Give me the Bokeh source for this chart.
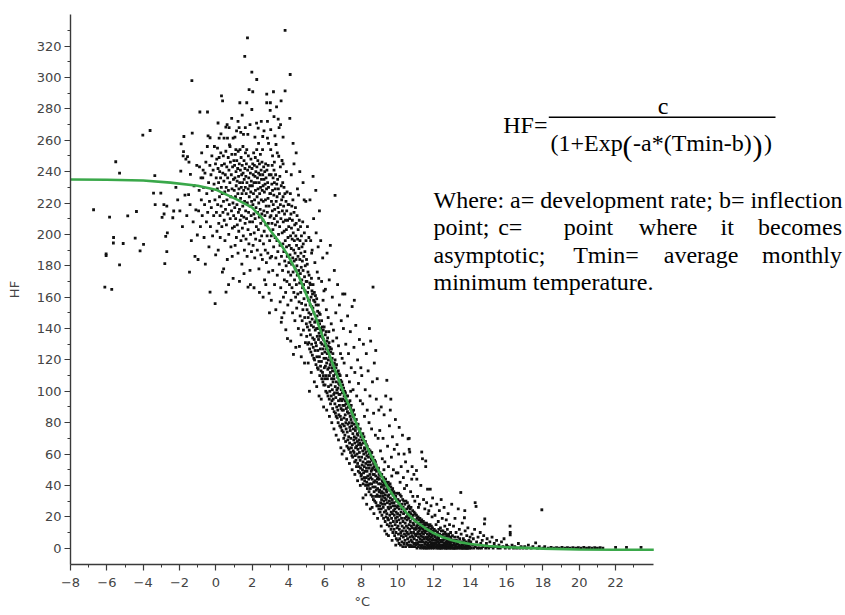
from bokeh.plotting import figure
from bokeh.models import FixedTicker, Title
from bokeh.embed import file_html
from bokeh.resources import INLINE
from bokeh.core.properties import value

# ---------------- data ----------------
x_major = [-8, -6, -4, -2, 0, 2, 4, 6, 8, 10, 12, 14, 16, 18, 20, 22]
x_minor = [-7, -5, -3, -1, 1, 3, 5, 7, 9, 11, 13, 15, 17, 19, 21, 23]
y_major = [0, 20, 40, 60, 80, 100, 120, 140, 160, 180, 200, 220, 240, 260, 280, 300, 320]
y_minor = [10, 30, 50, 70, 90, 110, 130, 150, 170, 190, 210, 230, 250, 270, 290, 310, 330]

curve_x = [-8, -6, -4, -2.5, -1, 0, 1.2, 2, 2.5, 3, 3.5, 4, 4.5, 5, 5.5, 6, 6.5, 7, 7.5, 8, 8.5, 9,
           9.5, 10, 10.5, 11, 11.5, 12, 12.5, 13, 13.5, 14, 15, 16, 17, 18, 20, 22, 24.1]
curve_y = [235, 234.8, 234.3, 233, 231, 228.5, 222, 217, 211, 202.5, 195, 186, 175, 161, 147, 131, 115.5,
           100, 86, 72.5, 60, 48.5, 38, 29.5, 22.5, 17, 13, 9.5, 7, 5, 3.7, 2.7, 1.4, 0.6, 0.2, -0.3, -0.8, -1, -1]

pts_far_left = [(-6.73,215.7),(-6.11,166.4),(-6.04,187.6),(-6.04,186.4),(-5.85,211),(-5.73,165),(-5.64,194.5),
    (-5.63,198),(-5.51,246.3),(-5.3,239),(-5.3,180.6),(-5.1,194.2),(-4.85,211.8),(-4.44,197.6),(-4.37,214.6),
    (-4.17,189.5),(-4.02,263.2),(-3.98,193.6),(-3.62,266.2),(-3.43,226.3),(-3.36,237.5),(-3.34,219),(-3.03,226.3),
    (-2.96,210.8),(-2.86,219),(-2.85,213),(-2.81,181.4),(-2.76,198.7),(-2.7,218),(-2.7,189),(-2.67,201),
    (-2.37,210.6),(-2.32,214.9),(-2.2,230),(-2.1,222),(-1.98,215),(-1.93,240.3),(-1.91,257.7),(-1.84,205),
    (-1.8,250),(-1.78,252.8),(-1.76,262.4),(-1.7,225),(-1.65,248),(-1.6,212),(-1.56,249.6),(-1.5,225.4),
    (-1.48,246),(-1.45,176),(-1.42,219),(-1.4,238.3),(-1.35,196),(-1.32,298),(-1.3,264.5),(-1.25,208),
    (-1.2,231),(-1.15,186),(-1.1,215.6),(-1.05,244),(-1.02,199.6)]

pts_m1_0 = [(-0.98,184),(-0.95,215),(-0.92,228),(-0.9,243),(-0.88,278),(-0.85,205),(-0.82,236),(-0.8,222),
    (-0.78,252),(-0.75,212),(-0.72,236),(-0.7,241),(-0.68,230),(-0.65,198),(-0.62,219),(-0.6,239),(-0.58,181),
    (-0.55,246),(-0.52,208),(-0.5,226),(-0.47,256),(-0.46,278),(-0.45,214),(-0.43,262.8),(-0.4,233),(-0.38,192),
    (-0.35,221),(-0.33,244),(-0.32,261.6),(-0.32,163.2),(-0.3,205),(-0.27,238),(-0.25,217),(-0.22,250),
    (-0.2,228),(-0.18,199),(-0.15,241),(-0.12,212),(-0.1,232),(-0.08,256),(-0.05,222),(-0.04,155.9),
    (-0.02,245),(-0.01,187)]

pts_0_1 = [(0.18,261.3),(0.31,288.3),(0.37,285.1),(0.45,261.3),(0.55,268.3),(0.56,163.2),(0.64,261.3),
    (0.73,268),(0.78,256),(0.95,261.3),(0.02,236),(0.03,214),(0.05,248),(0.06,202),(0.08,229),(0.09,255),
    (0.1,219),(0.12,242),(0.13,190),(0.15,233),(0.16,207),(0.18,249),(0.2,224),(0.21,240),(0.23,212),
    (0.24,198),(0.26,236),(0.27,252),(0.29,218),(0.3,230),(0.32,244),(0.33,205),(0.35,226),(0.36,176),
    (0.38,239),(0.39,214),(0.41,250),(0.42,221),(0.44,234),(0.46,209),(0.47,245),(0.49,227),(0.5,196),
    (0.52,238),(0.53,216),(0.55,253),(0.57,230),(0.58,206),(0.6,243),(0.61,222),(0.63,184),(0.65,236),
    (0.66,213),(0.68,249),(0.69,228),(0.71,200),(0.72,241),(0.74,219),(0.75,257),(0.77,233),(0.79,210),
    (0.8,246),(0.82,224),(0.83,192),(0.85,238),(0.86,215),(0.88,251),(0.89,229),(0.91,204),(0.92,243),
    (0.94,220),(0.95,172),(0.97,235),(0.98,212),(0.99,247),(0.28,264),(0.62,270),(0.87,274),(0.12,271),
    (0.43,178),(0.7,168),(0.9,186)]

pts_1_2 = [(1.14,266),(1.28,268),(1.32,283.9),(1.33,254),(1.37,265),(1.52,263.7),(1.59,313.4),(1.7,283.9),
    (1.7,254),(1.74,325.3),(1.76,263.7),(1.77,166.4),(1.83,292.3),(1.98,279.6),(1.98,303.4),(1.1,254),
    (1.01,228),(1.02,205),(1.03,244),(1.04,217),(1.05,236),(1.06,193),(1.07,251),(1.08,224),(1.09,210),
    (1.11,240),(1.12,231),(1.13,198),(1.15,247),(1.16,219),(1.17,234),(1.18,206),(1.2,242),(1.21,226),
    (1.22,188),(1.23,253),(1.24,214),(1.25,237),(1.26,202),(1.27,229),(1.29,245),(1.3,216),(1.31,233),
    (1.34,209),(1.35,241),(1.36,223),(1.38,196),(1.39,249),(1.4,230),(1.41,212),(1.42,238),(1.43,181),
    (1.44,226),(1.45,244),(1.46,204),(1.47,233),(1.48,218),(1.49,256),(1.5,239),(1.51,199),(1.53,228),
    (1.54,211),(1.55,247),(1.56,235),(1.57,190),(1.58,221),(1.6,242),(1.61,207),(1.62,230),(1.63,252),
    (1.64,215),(1.65,237),(1.66,197),(1.67,226),(1.68,245),(1.69,210),(1.71,233),(1.72,186),(1.73,220),
    (1.75,241),(1.77,203),(1.78,229),(1.79,250),(1.8,214),(1.81,236),(1.82,194),(1.84,224),(1.85,243),
    (1.86,208),(1.87,231),(1.88,177),(1.89,218),(1.9,239),(1.91,200),(1.92,227),(1.93,248),(1.94,212),
    (1.95,234),(1.96,189),(1.97,221),(1.99,242),(1.05,262),(1.22,272),(1.45,276),(1.62,268),(1.88,270),
    (1.3,170),(1.55,175),(1.9,168)]

pts_2_3 = [(2.03,290.9),(2.24,270.9),(2.25,298.7),(2.25,254),(2.33,267.7),(2.57,254),(2.58,262.4),
    (2.8,289.4),(2.8,283.9),(2.84,261.3),(2.84,272),(2.93,162.5),(2.95,150),(2.99,279),(3.0,283.9),
    (2.01,231),(2.02,208),(2.03,245),(2.04,219),(2.05,193),(2.06,238),(2.07,226),(2.08,252),(2.09,213),
    (2.1,233),(2.11,201),(2.12,244),(2.13,222),(2.14,185),(2.15,237),(2.16,210),(2.17,249),(2.18,228),
    (2.19,197),(2.2,240),(2.21,217),(2.22,233),(2.23,205),(2.26,243),(2.27,224),(2.28,190),(2.29,236),
    (2.3,214),(2.31,247),(2.32,229),(2.34,203),(2.35,239),(2.36,220),(2.37,178),(2.38,233),(2.39,211),
    (2.4,245),(2.41,226),(2.42,196),(2.43,238),(2.44,216),(2.45,251),(2.46,230),(2.47,207),(2.48,187),
    (2.49,241),(2.5,222),(2.51,235),(2.52,199),(2.53,213),(2.54,246),(2.55,228),(2.56,184),(2.58,238),
    (2.59,209),(2.6,231),(2.61,221),(2.62,194),(2.63,243),(2.64,215),(2.65,235),(2.66,202),(2.67,227),
    (2.68,171),(2.69,240),(2.7,212),(2.71,232),(2.72,190),(2.73,222),(2.74,245),(2.75,206),(2.76,236),
    (2.77,218),(2.78,182),(2.79,229),(2.81,241),(2.82,199),(2.83,214),(2.85,233),(2.86,188),(2.87,223),
    (2.88,244),(2.89,207),(2.9,230),(2.91,176),(2.92,218),(2.94,238),(2.96,196),(2.97,226),(2.98,211),
    (2.99,185),(2.15,262),(2.35,258),(2.5,272),(2.65,266),(2.9,258),(2.1,166),(2.4,163),(2.6,160),(2.75,168)]

pts_3_4 = [(3.02,266.8),(3.02,254),(3.17,290.9),(3.25,262.8),(3.31,257.3),(3.34,281.3),(3.43,273.4),
    (3.46,249.8),(3.48,268),(3.54,157),(3.56,270),(3.59,285.1),(3.63,146.9),(3.64,247.1),(3.81,330),
    (3.81,291.5),(3.85,139.2),(3.94,133.6),(3.01,226),(3.03,212),(3.04,238),(3.05,199),(3.06,221),
    (3.07,186),(3.08,232),(3.09,207),(3.1,244),(3.11,215),(3.12,228),(3.13,177),(3.14,203),(3.15,236),
    (3.16,219),(3.18,192),(3.19,225),(3.2,241),(3.21,210),(3.22,233),(3.23,168),(3.24,216),(3.26,198),
    (3.27,229),(3.28,206),(3.29,238),(3.3,185),(3.32,221),(3.33,212),(3.35,232),(3.36,196),(3.37,224),
    (3.38,174),(3.39,208),(3.4,235),(3.41,189),(3.42,217),(3.44,229),(3.45,200),(3.47,214),(3.49,181),
    (3.5,226),(3.51,205),(3.52,237),(3.53,193),(3.55,219),(3.57,166),(3.58,210),(3.6,231),(3.61,186),
    (3.62,222),(3.65,201),(3.66,215),(3.67,177),(3.68,233),(3.69,194),(3.7,224),(3.71,208),(3.72,160),
    (3.73,218),(3.74,189),(3.75,230),(3.76,202),(3.77,171),(3.78,213),(3.79,183),(3.8,226),(3.82,196),
    (3.83,209),(3.84,163),(3.86,221),(3.87,180),(3.88,203),(3.89,192),(3.9,215),(3.91,170),(3.92,227),
    (3.93,186),(3.95,209),(3.96,155),(3.97,198),(3.98,219),(3.99,176),(3.12,250),(3.22,246),(3.38,252),
    (3.55,243),(3.7,245),(3.88,240),(3.05,158),(3.3,152),(3.6,144),(3.75,150),(3.2,275),(3.7,262)]

pts_4_5 = [(4.07,274),(4.09,301.9),(4.27,123.5),(4.6,128.6),(4.01,205),(4.02,182),(4.03,219),(4.04,193),
    (4.05,168),(4.06,210),(4.08,187),(4.1,226),(4.11,199),(4.12,174),(4.13,213),(4.14,158),(4.15,191),
    (4.16,204),(4.17,181),(4.18,218),(4.19,166),(4.2,197),(4.21,209),(4.22,150),(4.23,185),(4.24,222),
    (4.25,176),(4.26,201),(4.28,190),(4.29,163),(4.3,214),(4.31,183),(4.32,196),(4.33,171),(4.34,206),
    (4.35,145),(4.36,188),(4.37,178),(4.38,217),(4.39,160),(4.4,199),(4.41,184),(4.42,207),(4.43,168),
    (4.44,193),(4.45,153),(4.46,180),(4.47,212),(4.48,174),(4.5,197),(4.51,162),(4.52,186),(4.53,203),
    (4.54,140),(4.56,177),(4.57,191),(4.58,157),(4.59,209),(4.61,169),(4.62,184),(4.63,196),(4.64,148),
    (4.65,175),(4.66,205),(4.67,163),(4.68,188),(4.69,136),(4.7,179),(4.71,199),(4.72,156),(4.73,171),
    (4.74,192),(4.75,145),(4.76,183),(4.77,166),(4.78,208),(4.79,152),(4.8,177),(4.81,194),(4.82,139),
    (4.83,168),(4.84,186),(4.85,159),(4.87,201),(4.88,173),(4.89,147),(4.9,189),(4.91,164),(4.92,180),
    (4.93,131),(4.94,155),(4.96,196),(4.97,170),(4.98,143),(4.99,184),(4.49,229),(4.55,225),(4.86,222),
    (4.95,221),(4.15,238),(4.3,245),(4.62,240),(4.8,233),(4.25,258),(4.42,252),(4.12,132),(4.4,128),
    (4.7,122),(4.88,118)]

pts_5_6 = [(5.00,135),(5.01,170),(5.02,152),(5.03,181),(5.04,141),(5.05,163),(5.06,130),(5.07,176),(5.08,147),
    (5.09,158),(5.10,166),(5.11,131),(5.12,150),(5.13,174),(5.14,139),(5.15,158),(5.16,127),(5.17,169),
    (5.18,144),(5.19,155),(5.20,136),(5.21,168),(5.22,149),(5.23,125),(5.24,160),(5.25,142),(5.26,172),
    (5.27,130),(5.28,154),(5.29,164),(5.30,146),(5.31,123),(5.32,162),(5.33,134),(5.34,153),(5.35,168),
    (5.36,128),(5.37,141),(5.38,158),(5.39,121),(5.40,150),(5.41,133),(5.42,163),(5.43,120),(5.44,144),
    (5.45,157),(5.46,126),(5.47,139),(5.48,161),(5.49,131),(5.50,145),(5.51,117),(5.52,155),(5.53,129),
    (5.54,140),(5.55,159),(5.56,122),(5.57,148),(5.58,135),(5.59,115),(5.60,151),(5.61,126),(5.62,140),
    (5.63,114),(5.64,155),(5.65,133),(5.66,145),(5.67,119),(5.68,137),(5.69,150),(5.70,122),(5.71,143),
    (5.72,110),(5.73,135),(5.74,149),(5.75,127),(5.76,116),(5.77,140),(5.78,131),(5.79,113),(5.80,138),
    (5.81,119),(5.82,145),(5.83,108),(5.84,130),(5.85,124),(5.86,141),(5.87,112),(5.88,134),(5.89,106),
    (5.90,127),(5.91,139),(5.92,110),(5.93,133),(5.94,104),(5.95,121),(5.96,141),(5.97,115),(5.98,129),
    (5.99,108),
    (5.04,205),(5.12,198),(5.18,222),(5.22,196),(5.27,188),(5.35,237),(5.38,210),(5.45,182),(5.52,201),
    (5.58,176),(5.63,192),(5.7,215),(5.77,196),(5.82,170),(5.88,185),(5.95,164),(5.5,228),(5.3,190),
    (5.66,172),(5.9,158),
    (5.08,118),(5.25,112),(5.42,106),(5.55,103),(5.68,97),(5.8,95),(5.93,90),(5.15,100)]

pts_6_7 = [(6.00,125),(6.01,104),(6.02,136),(6.03,116),(6.04,130),(6.05,100),(6.06,121),(6.07,138),(6.08,110),
    (6.09,127),(6.10,118),(6.11,132),(6.12,99),(6.13,124),(6.14,108),(6.15,134),(6.16,114),(6.17,97),
    (6.18,129),(6.19,120),(6.20,103),(6.21,126),(6.22,115),(6.23,131),(6.24,95),(6.25,110),(6.26,122),
    (6.27,100),(6.28,128),(6.29,117),(6.30,112),(6.31,92),(6.32,125),(6.33,104),(6.34,119),(6.35,97),
    (6.36,127),(6.37,108),(6.38,115),(6.39,94),(6.40,121),(6.41,101),(6.42,113),(6.43,89),(6.44,124),
    (6.45,106),(6.46,95),(6.47,117),(6.48,110),(6.49,98),(6.50,108),(6.51,87),(6.52,118),(6.53,99),
    (6.54,113),(6.55,92),(6.56,120),(6.57,103),(6.58,86),(6.59,111),(6.60,96),(6.61,115),(6.62,84),
    (6.63,106),(6.64,117),(6.65,90),(6.66,101),(6.67,112),(6.68,83),(6.69,99),(6.70,109),(6.71,88),
    (6.72,102),(6.73,80),(6.74,113),(6.75,94),(6.76,105),(6.77,85),(6.78,98),(6.79,111),(6.80,91),
    (6.81,104),(6.82,78),(6.83,98),(6.84,110),(6.85,84),(6.86,95),(6.87,107),(6.88,77),(6.89,89),
    (6.90,101),(6.91,82),(6.92,94),(6.93,106),(6.94,75),(6.95,88),(6.96,99),(6.97,79),(6.98,104),(6.99,91),
    (6.03,165),(6.08,152),(6.12,188),(6.18,147),(6.24,171),(6.3,193),(6.35,143),(6.41,160),(6.47,139),
    (6.52,177),(6.56,224.8),(6.6,150),(6.65,134),(6.7,168),(6.75,129),(6.8,155),(6.86,124),(6.9,145),
    (6.95,121),(6.98,162),(6.22,138),(6.44,132),
    (6.1,88),(6.25,84),(6.38,80),(6.5,76),(6.62,72),(6.75,69),(6.88,64),(6.95,60)]

pts_7_8 = [(7.00,95),(7.01,74),(7.02,88),(7.03,102),(7.04,70),(7.05,83),(7.06,97),(7.07,78),(7.08,91),
    (7.09,100),(7.10,72),(7.11,94),(7.12,85),(7.13,99),(7.14,68),(7.15,80),(7.16,92),(7.17,76),(7.18,89),
    (7.19,97),(7.20,82),(7.21,65),(7.22,93),(7.23,74),(7.24,87),(7.25,97),(7.26,69),(7.27,79),(7.28,90),
    (7.29,64),(7.30,86),(7.31,71),(7.32,93),(7.33,63),(7.34,80),(7.35,90),(7.36,67),(7.37,77),(7.38,94),
    (7.39,84),(7.40,75),(7.41,61),(7.42,89),(7.43,70),(7.44,82),(7.45,91),(7.46,64),(7.47,78),(7.48,86),
    (7.49,59),(7.50,80),(7.51,66),(7.52,87),(7.53,58),(7.54,73),(7.55,84),(7.56,62),(7.57,76),(7.58,88),
    (7.59,69),(7.60,61),(7.61,79),(7.62,71),(7.63,85),(7.64,55),(7.65,67),(7.66,82),(7.67,59),(7.68,75),
    (7.69,64),(7.70,77),(7.71,56),(7.72,70),(7.73,82),(7.74,52),(7.75,65),(7.76,79),(7.77,60),(7.78,73),
    (7.79,68),(7.80,54),(7.81,72),(7.82,63),(7.83,79),(7.84,49),(7.85,66),(7.86,58),(7.87,76),(7.88,52),
    (7.89,69),(7.90,61),(7.91,74),(7.92,48),(7.93,67),(7.94,56),(7.95,76),(7.96,51),(7.97,64),(7.98,71),
    (7.99,46),
    (7.02,140),(7.06,118),(7.1,162),(7.15,130),(7.2,110),(7.25,148),(7.3,124),(7.35,106),(7.4,138),
    (7.45,115),(7.5,154),(7.55,101),(7.6,128),(7.65,112),(7.7,142),(7.75,97),(7.8,120),(7.85,105),
    (7.9,133),(7.95,94),(7.98,115),(7.42,100),(7.62,158),
    (7.05,62),(7.2,57),(7.35,54),(7.5,50),(7.65,47),(7.8,43),(7.95,40)]

pts_8_9 = [(8.00,66),(8.01,47),(8.02,58),(8.03,72),(8.04,44),(8.05,53),(8.06,69),(8.07,50),(8.08,62),
    (8.09,73),(8.10,55),(8.11,41),(8.12,67),(8.13,48),(8.14,60),(8.15,71),(8.16,45),(8.17,52),(8.18,64),
    (8.19,43),(8.20,63),(8.21,49),(8.22,57),(8.23,68),(8.24,40),(8.25,54),(8.26,61),(8.27,45),(8.28,66),
    (8.29,51),(8.30,42),(8.31,59),(8.32,49),(8.33,65),(8.34,38),(8.35,55),(8.36,46),(8.37,62),(8.38,53),
    (8.39,40),(8.40,58),(8.41,44),(8.42,63),(8.43,36),(8.44,51),(8.45,60),(8.46,41),(8.47,55),(8.48,47),
    (8.49,62),(8.50,38),(8.51,53),(8.52,45),(8.53,60),(8.54,34),(8.55,49),(8.56,57),(8.57,41),(8.58,61),
    (8.59,50),(8.60,44),(8.61,56),(8.62,33),(8.63,51),(8.64,39),(8.65,58),(8.66,47),(8.67,31),(8.68,54),
    (8.69,42),(8.70,52),(8.71,36),(8.72,47),(8.73,56),(8.74,30),(8.75,43),(8.76,50),(8.77,39),(8.78,55),
    (8.79,33),(8.80,46),(8.81,29),(8.82,53),(8.83,37),(8.84,49),(8.85,42),(8.86,27),(8.87,51),(8.88,34),
    (8.89,44),(8.90,38),(8.91,50),(8.92,27),(8.93,45),(8.94,33),(8.95,51),(8.96,41),(8.97,25),(8.98,47),
    (8.99,36),
    (8.03,110),(8.08,92),(8.12,130),(8.18,84),(8.22,101),(8.28,124),(8.33,88),(8.38,113),(8.43,80),
    (8.48,97),(8.52,132),(8.57,76),(8.62,106),(8.65,166.4),(8.68,86),(8.72,118),(8.78,72),(8.83,95),
    (8.88,108),(8.93,70),(8.97,88),(8.45,140),(8.8,126),
    (8.1,32),(8.3,28),(8.5,25),(8.7,22),(8.9,19),(8.25,34),(8.6,26)]

pts_9_10 = [(9.00,44),(9.01,27),(9.02,37),(9.03,48),(9.04,23),(9.05,33),(9.06,41),(9.07,29),(9.08,46),
    (9.09,35),(9.10,25),(9.11,39),(9.12,31),(9.13,47),(9.14,21),(9.15,36),(9.16,43),(9.17,28),(9.18,40),
    (9.19,33),(9.20,42),(9.21,26),(9.22,35),(9.23,19),(9.24,45),(9.25,30),(9.26,38),(9.27,23),(9.28,41),
    (9.29,32),(9.30,28),(9.31,40),(9.32,17),(9.33,34),(9.34,44),(9.35,24),(9.36,37),(9.37,20),(9.38,31),
    (9.39,42),(9.40,36),(9.41,22),(9.42,41),(9.43,15),(9.44,29),(9.45,38),(9.46,19),(9.47,33),(9.48,26),
    (9.49,42),(9.50,18),(9.51,34),(9.52,25),(9.53,40),(9.54,14),(9.55,30),(9.56,37),(9.57,21),(9.58,28),
    (9.59,41),(9.60,32),(9.61,16),(9.62,26),(9.63,39),(9.64,12),(9.65,23),(9.66,35),(9.67,19),(9.68,29),
    (9.69,37),(9.70,14),(9.71,31),(9.72,22),(9.73,38),(9.74,10),(9.75,27),(9.76,34),(9.77,17),(9.78,24),
    (9.79,36),(9.80,29),(9.81,12),(9.82,21),(9.83,35),(9.84,8),(9.85,25),(9.86,32),(9.87,15),(9.88,27),
    (9.89,19),(9.90,33),(9.91,10),(9.92,23),(9.93,6),(9.94,30),(9.95,17),(9.96,35),(9.97,13),(9.98,26),
    (9.99,20),
    (9.02,75),(9.06,62),(9.1,90),(9.16,57),(9.2,70),(9.26,85),(9.3,55),(9.35,97),(9.41,107),(9.45,65),
    (9.5,52),(9.55,78),(9.6,88),(9.63,95),(9.66,58),(9.72,71),(9.77,50),(9.82,63),(9.88,82),(9.93,48),
    (9.97,66),(9.25,50),(9.68,46),
    (9.1,14),(9.3,11),(9.5,8),(9.7,5),(9.9,2),(9.4,9)]

pts_10_11 = [(10.00,22),(10.01,5),(10.02,31),(10.03,14),(10.04,27),(10.05,9),(10.06,35),(10.07,18),(10.08,3),
    (10.09,25),(10.10,12),(10.11,30),(10.12,6),(10.13,21),(10.14,34),(10.15,16),(10.16,2),(10.17,27),
    (10.18,10),(10.19,23),(10.20,33),(10.21,8),(10.22,19),(10.23,28),(10.24,4),(10.25,14),(10.26,25),
    (10.27,11),(10.28,31),(10.29,1),(10.30,17),(10.31,26),(10.32,7),(10.33,22),(10.34,30),(10.35,3),
    (10.36,13),(10.37,24),(10.38,9),(10.39,19),(10.40,28),(10.41,5),(10.42,16),(10.43,23),(10.44,1),
    (10.45,11),(10.46,30),(10.47,8),(10.48,20),(10.49,14),(10.50,25),(10.51,3),(10.52,18),(10.53,10),
    (10.54,29),(10.55,6),(10.56,21),(10.57,13),(10.58,2),(10.59,26),(10.60,9),(10.61,19),(10.62,27),
    (10.63,4),(10.64,15),(10.65,23),(10.66,1),(10.67,12),(10.68,25),(10.69,7),(10.70,17),(10.71,2),
    (10.72,22),(10.73,10),(10.74,26),(10.75,5),(10.76,14),(10.77,20),(10.78,1),(10.79,8),(10.80,19),
    (10.81,4),(10.82,13),(10.83,24),(10.84,7),(10.85,16),(10.86,1),(10.87,21),(10.88,10),(10.89,3),
    (10.90,15),(10.91,23),(10.92,6),(10.93,12),(10.94,1),(10.95,18),(10.96,9),(10.97,22),(10.98,3),(10.99,13),
    (10.02,48),(10.06,60),(10.09,77),(10.14,42),(10.2,52),(10.27,72),(10.32,45),(10.38,38),(10.44,55),
    (10.5,40),(10.56,49),(10.58,69.7),(10.64,70),(10.64,63),(10.67,61.3),(10.72,36),(10.78,44),(10.84,33),
    (10.9,47),(10.95,30),(10.36,60),(10.8,52)]

pts_11_12 = [(11.00,8),(11.01,17),(11.02,2),(11.03,12),(11.04,21),(11.05,5),(11.06,14),(11.07,0),(11.08,19),
    (11.09,9),(11.10,3),(11.11,15),(11.12,10),(11.13,20),(11.14,1),(11.15,7),(11.16,13),(11.17,18),(11.18,4),
    (11.19,11),(11.20,16),(11.21,2),(11.22,9),(11.23,19),(11.24,6),(11.25,12),(11.26,0),(11.27,14),(11.28,4),
    (11.29,17),(11.30,8),(11.31,1),(11.32,13),(11.33,18),(11.34,5),(11.35,10),(11.36,2),(11.37,15),(11.38,7),
    (11.39,0),(11.40,12),(11.41,4),(11.42,17),(11.43,9),(11.44,1),(11.45,14),(11.46,6),(11.47,11),(11.48,0),
    (11.49,16),(11.50,3),(11.51,10),(11.52,15),(11.53,1),(11.54,7),(11.55,13),(11.56,4),(11.57,0),(11.58,11),
    (11.59,16),(11.60,6),(11.61,2),(11.62,12),(11.63,0),(11.64,9),(11.65,15),(11.66,3),(11.67,7),(11.68,1),
    (11.69,13),(11.70,5),(11.71,11),(11.72,0),(11.73,8),(11.74,14),(11.75,2),(11.76,6),(11.77,10),(11.78,1),
    (11.79,15),(11.80,4),(11.81,9),(11.82,0),(11.83,12),(11.84,3),(11.85,7),(11.86,14),(11.87,1),(11.88,5),
    (11.89,10),(11.90,2),(11.91,8),(11.92,13),(11.93,0),(11.94,6),(11.95,11),(11.96,3),(11.97,1),(11.98,9),
    (11.99,5),
    (11.04,49.5),(11.06,44),(11.33,61.3),(11.37,57),(11.55,55.6),(11.55,52),(11.65,37.6),(11.8,37.6),
    (11.1,33),(11.2,28),(11.28,40),(11.43,31),(11.5,25),(11.6,29),(11.72,24),(11.84,27),(11.93,32),
    (11.15,26),(11.68,22),(11.9,20)]

pts_12_13 = [(12.02,12),(12.04,3),(12.06,21),(12.08,7),(12.1,1),(12.12,15),(12.14,5),(12.16,28),(12.18,2),
    (12.2,10),(12.22,0),(12.24,17),(12.26,6),(12.28,3),(12.3,24),(12.32,9),(12.34,1),(12.36,13),(12.38,4),
    (12.4,31),(12.42,0),(12.44,8),(12.46,19),(12.48,2),(12.5,11),(12.52,5),(12.54,1),(12.56,26),(12.58,7),
    (12.6,14),(12.62,0),(12.64,3),(12.66,9),(12.68,18),(12.7,1),(12.72,5),(12.74,12),(12.76,0),(12.78,22),
    (12.8,4),(12.82,8),(12.84,1),(12.86,15),(12.88,3),(12.9,0),(12.92,10),(12.94,6),(12.96,2),(12.98,28),
    (12.03,0),(12.35,0),(12.65,0),(12.11,5),(12.45,4),(12.85,1),
    (12.01,2),(12.05,8),(12.07,1),(12.09,11),(12.13,3),(12.15,6),(12.17,0),(12.19,9),(12.21,4),(12.23,1),
    (12.25,7),(12.27,12),(12.29,2),(12.31,5),(12.33,0),(12.37,8),(12.39,2),(12.41,11),(12.43,5),(12.47,1),
    (12.49,7),(12.51,0),(12.53,9),(12.55,3),(12.57,1),(12.59,6),(12.61,10),(12.63,2),(12.67,4),(12.69,1),
    (12.71,8),(12.73,0),(12.75,3),(12.77,6),(12.79,1),(12.81,9),(12.83,2),(12.87,5),(12.89,0),(12.91,3),
    (12.93,7),(12.95,1),(12.97,4),(12.99,0)]

pts_13_14 = [(13.48,35.5),(13.68,19.4),(13.7,24),(13.02,8),(13.05,2),(13.08,14),(13.1,0),(13.13,5),
    (13.16,19),(13.19,1),(13.22,10),(13.25,3),(13.28,0),(13.31,7),(13.34,25),(13.37,1),(13.4,12),(13.43,4),
    (13.46,0),(13.5,9),(13.53,2),(13.56,16),(13.59,0),(13.62,6),(13.65,3),(13.72,11),(13.75,1),(13.78,4),
    (13.81,8),(13.84,0),(13.87,13),(13.9,2),(13.93,5),(13.96,0),(13.99,7),(13.15,0),(13.45,1),(13.7,0),
    (13.3,3),
    (13.01,1),(13.04,5),(13.07,0),(13.11,3),(13.14,7),(13.18,2),(13.21,0),(13.24,5),(13.27,1),(13.33,4),
    (13.36,0),(13.39,2),(13.42,6),(13.49,1),(13.52,0),(13.55,4),(13.58,2),(13.61,0),(13.64,1),(13.67,5),
    (13.74,0),(13.77,2),(13.8,0),(13.83,3),(13.86,1),(13.89,0),(13.92,2),(13.95,4),(13.98,1)]

pts_14_16 = [(14.27,29),(14.32,26.6),(14.78,15.5),(14.8,18.6),(15.86,6),(16.2,10),(16.2,8.5),(16.19,14),
    (14.03,4),(14.06,0),(14.1,9),(14.13,2),(14.17,6),(14.2,0),(14.24,12),(14.28,1),(14.35,4),(14.39,0),
    (14.43,7),(14.47,2),(14.5,0),(14.55,10),(14.58,3),(14.62,0),(14.66,5),(14.7,1),(14.74,8),(14.85,0),
    (14.89,3),(14.93,6),(14.97,1),(15.02,0),(15.08,4),(15.14,1),(15.2,7),(15.26,0),(15.32,3),(15.38,1),
    (15.45,5),(15.52,0),(15.58,2),(15.65,0),(15.72,4),(15.8,1),(15.93,0),(16.0,2)]

pts_16_24 = [(16.08,1),(16.15,0),(16.3,2),(16.38,0),(16.45,1),(16.55,0),(16.65,3),(16.72,0),(16.8,1),
    (16.9,0),(17.0,1),(17.1,0),(17.2,2),(17.35,0),(17.45,1),(17.6,3.4),(17.7,0),(17.8,1),(17.94,24.5),
    (18.0,0),(18.1,1),(18.3,0),(18.45,0.5),(18.6,0),(18.75,0.3),(18.9,0),(19.05,0.5),(19.2,0),(19.35,0.3),
    (19.5,0),(19.65,0.4),(19.8,0),(19.95,0.3),(20.1,0),(20.25,0.5),(20.4,0),(20.55,0.3),(20.7,0),
    (20.85,0.4),(21.0,0),(21.15,0.3),(21.3,0),(22.0,0.5),(22.6,0.5),(23.4,0.5)]

point_groups = [pts_far_left, pts_m1_0, pts_0_1, pts_1_2, pts_2_3, pts_3_4, pts_4_5, pts_5_6, pts_6_7,
                pts_7_8, pts_8_9, pts_9_10, pts_10_11, pts_11_12, pts_12_13, pts_13_14, pts_14_16, pts_16_24]
pt_x = [p[0] for g in point_groups for p in g]
pt_y = [p[1] for g in point_groups for p in g]

# ---------------- layout ----------------
W, H = 845, 615
BL, BT = 70, 14
FW, FH = W - BL, 550
BB = H - BT - FH
XS, YS = 18.17, 1.569          # pixels per unit
X0, Y0 = -8, -10.4
X1, Y1 = X0 + FW / XS, Y0 + FH / YS
PAGE_L, PAGE_B = BL, BT + FH


def DX(px):
    return X0 + (px - PAGE_L) / XS


def DY(py):
    return Y0 + (PAGE_B - py) / YS


p = figure(width=W, height=H, x_range=(X0, X1), y_range=(Y0, Y1),
           output_backend="svg", toolbar_location=None,
           min_border_left=BL, min_border_right=0, min_border_top=BT, min_border_bottom=BB)
p.outline_line_color = None
p.xgrid.visible = False
p.ygrid.visible = False
p.background_fill_color = "white"

AX_COL = "#3a3a3a"
LBL_COL = "#444444"
for ax in (p.xaxis[0], p.yaxis[0]):
    ax.axis_line_color = AX_COL
    ax.axis_line_width = 1.4
    ax.major_tick_line_color = AX_COL
    ax.minor_tick_line_color = AX_COL
    ax.major_tick_line_width = 1.2
    ax.minor_tick_line_width = 1.0
    ax.major_tick_out = 6
    ax.major_tick_in = 0
    ax.minor_tick_out = 3
    ax.minor_tick_in = 0
    ax.major_label_text_font = "DejaVu Sans"
    ax.major_label_text_font_size = "13px"
    ax.major_label_text_color = LBL_COL
    ax.axis_label_text_font = "DejaVu Sans"
    ax.axis_label_text_font_size = "13px"
    ax.axis_label_text_font_style = "normal"
    ax.axis_label_text_color = LBL_COL

p.xaxis[0].ticker = FixedTicker(ticks=x_major, minor_ticks=x_minor)
p.xaxis[0].bounds = (X0, 24.1)
p.xaxis[0].major_label_standoff = 7
p.yaxis[0].ticker = FixedTicker(ticks=y_major, minor_ticks=y_minor)
p.yaxis[0].major_label_standoff = 3
p.yaxis[0].axis_label = "HF"
p.yaxis[0].axis_label_standoff = 12

# x-axis caption, centred under the drawn part of the axis
p.add_layout(Title(text="°C", align="left", offset=284, standoff=4,
                   text_font="DejaVu Sans", text_font_size="13px", text_font_style="normal",
                   text_color=LBL_COL), "below")

p.scatter(pt_x, pt_y, marker="square", size=2.8, fill_color="#111111", line_color=None)
p.line(curve_x, curve_y, line_color="#3aa84a", line_width=2.6)

# ---------------- formula and explanation ----------------
SERIF = value("Liberation Serif")
FS = "24px"


def put(items, align, size=FS):
    p.text(x=[DX(a[1]) for a in items], y=[DY(a[2]) for a in items], text=[a[0] for a in items],
           text_font=SERIF, text_font_size=size, text_color="black",
           text_align=align, text_baseline="alphabetic")


put([("HF=", 502.7, 124.0), ("(1+Exp", 550, 142.7), ("-a*(Tmin-b)", 632.5, 142.7), (")", 763.5, 142.7),
     ("Where: a= development rate; b= inflection", 433, 199.3),
     ("point;", 433, 226.7), ("c=", 497.7, 226.7), ("point", 563.3, 226.7), ("where", 638.3, 226.7),
     ("it", 720, 226.7),
     ("asymptotic;", 433, 254.0), ("Tmin=", 572.7, 254.0), ("average", 663.3, 254.0),
     ("minimum temperature.", 433, 281.7)], "left")
put([("(", 622, 145.0), (")", 752, 145.0)], "left", "30px")
put([("c", 662.5, 105.0)], "center")
put([("becomes", 841.5, 226.7), ("monthly", 841.5, 254.0)], "right")
p.line([DX(548.3), DX(775)], [DY(116.7), DY(116.7)], line_color="black", line_width=1.4)

open("out.html", "w").write(file_html(p, INLINE))
